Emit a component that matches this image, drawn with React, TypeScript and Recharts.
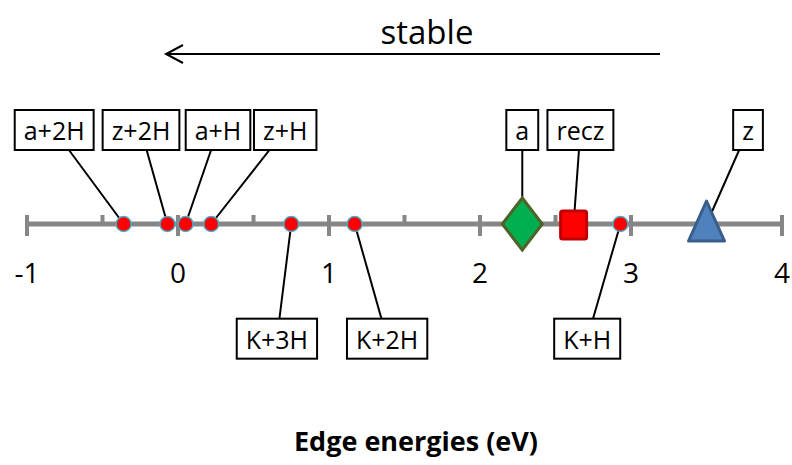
import { ScatterChart, Scatter, XAxis, YAxis, Customized } from "recharts";

// species and their edge energies (eV)
const names = ["a+2H", "z+2H", "a+H", "z+H", "K+3H", "K+2H", "a", "recz", "K+H", "z"];
const energies = [-0.36, -0.07, 0.05, 0.22, 0.75, 1.17, 2.28, 2.62, 2.93, 3.5];

// where each callout box sits (x in eV, level above/below the axis)
const calloutX = [-0.82, -0.245, 0.265, 0.71, 0.655, 1.385, 2.28, 2.665, 2.71, 3.775];
const calloutLevel = [1, 1, 1, 1, -1.22, -1.22, 1, 1, -1.22, 1];

const majorTicks = [-1, 0, 1, 2, 3, 4];
const minorTicks = [-0.5, 0.5, 1.5, 2.5, 3.5];

const axisTitle = "Edge energies (eV)";
const arrowText = "stable";

const FONT = '"Open Sans", sans-serif';
const AXIS_GRAY = "#868686";

let ctx: CanvasRenderingContext2D | null = null;
function textWidth(s: string, font: string) {
  if (!ctx) ctx = document.createElement("canvas").getContext("2d");
  if (!ctx) return s.length * 14;
  ctx.font = font;
  return ctx.measureText(s).width;
}

const markerKind: Record<string, string> = { a: "diamond", recz: "square", z: "triangle" };

const axisData = [
  { x: -1, y: 0 },
  { x: 4, y: 0 },
];
const tickData = [
  ...majorTicks.map((t) => ({ x: t, y: 0, major: true })),
  ...minorTicks.map((t) => ({ x: t, y: 0, major: false })),
];
const pointData = names.map((n, i) => ({ x: energies[i], y: 0, name: n }));

function Tick(props: any) {
  const { cx, cy, payload } = props;
  if (payload.major) {
    return (
      <g>
        <line x1={cx} x2={cx} y1={cy - 9} y2={cy + 12} stroke={AXIS_GRAY} strokeWidth={4} />
        <text x={cx} y={cy + 59} textAnchor="middle" fontSize={28} fontFamily={FONT} fill="#000">
          {payload.x}
        </text>
      </g>
    );
  }
  return <line x1={cx} x2={cx} y1={cy - 9} y2={cy} stroke={AXIS_GRAY} strokeWidth={4} />;
}

function Marker(props: any) {
  const { cx, cy, payload } = props;
  const kind = markerKind[payload.name] || "circle";
  if (kind === "diamond") {
    return (
      <polygon
        points={`${cx},${cy - 26} ${cx + 20},${cy} ${cx},${cy + 26} ${cx - 20},${cy}`}
        fill="#00b050"
        stroke="#4f6228"
        strokeWidth={3}
      />
    );
  }
  if (kind === "square") {
    return <rect x={cx - 13} y={cy - 13} width={26} height={28} rx={2} fill="#ff0000" stroke="#c00000" strokeWidth={3} />;
  }
  if (kind === "triangle") {
    return (
      <polygon
        points={`${cx},${cy - 23} ${cx + 18},${cy + 17} ${cx - 18},${cy + 17}`}
        fill="#4f81bd"
        stroke="#385d8a"
        strokeWidth={3}
        strokeLinejoin="round"
      />
    );
  }
  return <circle cx={cx} cy={cy} r={7.5} fill="#ff0000" stroke="#4bacc6" strokeWidth={1.5} />;
}

function CalloutBox(props: any) {
  const { cx, cy, payload } = props;
  if (!payload.box) return <g />;
  const font = `25px ${FONT}`;
  const w = textWidth(payload.name, font) + 18;
  const h = 40;
  return (
    <g>
      <rect x={cx - w / 2} y={cy - h / 2} width={w} height={h} fill="#fff" stroke="#000" strokeWidth={2} />
      <text x={cx} y={cy + 10} textAnchor="middle" fontSize={25} fontFamily={FONT} fill="#000">
        {payload.name}
      </text>
    </g>
  );
}

function Annotations() {
  return (
    <g>
      <text x={427} y={44} textAnchor="middle" fontSize={33} fontFamily={FONT} fill="#000">
        {arrowText}
      </text>
      <line x1={166} x2={660} y1={54} y2={54} stroke="#000" strokeWidth={2} />
      <polyline points="183,45 166,54 183,63" fill="none" stroke="#000" strokeWidth={2} />
      <text x={416} y={451} textAnchor="middle" fontSize={27} fontWeight="bold" fontFamily={FONT} fill="#000">
        {axisTitle}
      </text>
    </g>
  );
}

export default function App() {
  return (
    <div style={{ position: "absolute", left: 0, top: 0, background: "#fff" }}>
      <ScatterChart width={792} height={465} margin={{ top: 36, right: 10, bottom: 53, left: 27 }}>
        <XAxis type="number" dataKey="x" domain={[-1, 4]} hide />
        <YAxis type="number" dataKey="y" domain={[-2, 2]} hide />
        <Scatter
          data={axisData}
          line={{ stroke: AXIS_GRAY, strokeWidth: 5 }}
          shape={() => <g />}
          isAnimationActive={false}
        />
        <Scatter data={tickData} shape={Tick} isAnimationActive={false} />
        {names.map((n, i) => (
          <Scatter
            key={n}
            data={[
              { x: energies[i], y: 0, name: n, box: false },
              { x: calloutX[i], y: calloutLevel[i], name: n, box: true },
            ]}
            line={{ stroke: "#000", strokeWidth: 2 }}
            shape={CalloutBox}
            isAnimationActive={false}
          />
        ))}
        <Scatter data={pointData} shape={Marker} isAnimationActive={false} />
        <Customized component={Annotations} />
      </ScatterChart>
    </div>
  );
}
